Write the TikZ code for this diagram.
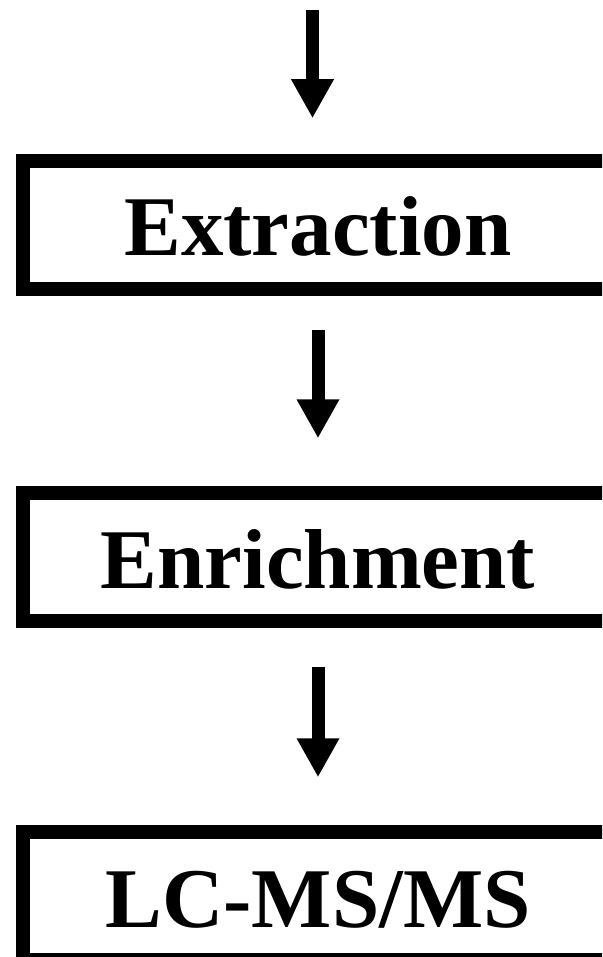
\documentclass[tikz,border=0pt]{standalone}
\usepackage{fontspec}
\setmainfont{Liberation Serif}
\usetikzlibrary{arrows.meta}
\begin{document}
\begin{tikzpicture}[x=1pt,y=1pt,
  stage/.style={draw=black, line width=13.5pt, minimum width=590pt, minimum height=128pt,
    inner sep=0pt, text height=62pt, text depth=0pt,
    font=\fontsize{85}{90}\selectfont\bfseries},
  flow/.style={line width=13pt, -{Triangle[width=40pt,length=39pt]}}]
\useasboundingbox (0,0) rectangle (602,-957);
\clip (0,0) rectangle (602,-957);
\fill[white] (0,0) rectangle (602,-957);
\node[stage] (ex) at (318,-225) {Extraction};
\node[stage] (en) at (318,-557) {Enrichment};
\node[stage] (lc) at (318,-896) {LC-MS/MS};
\coordinate (s0) at (312.5,-10);
\draw[flow, shorten >=36pt] (s0) -- (s0 |- ex.north);
\draw[flow, shorten <=34pt, shorten >=48pt] (ex.south) -- (en.north);
\draw[flow, shorten <=39pt, shorten >=48pt] (en.south) -- (lc.north);
\end{tikzpicture}
\end{document}
